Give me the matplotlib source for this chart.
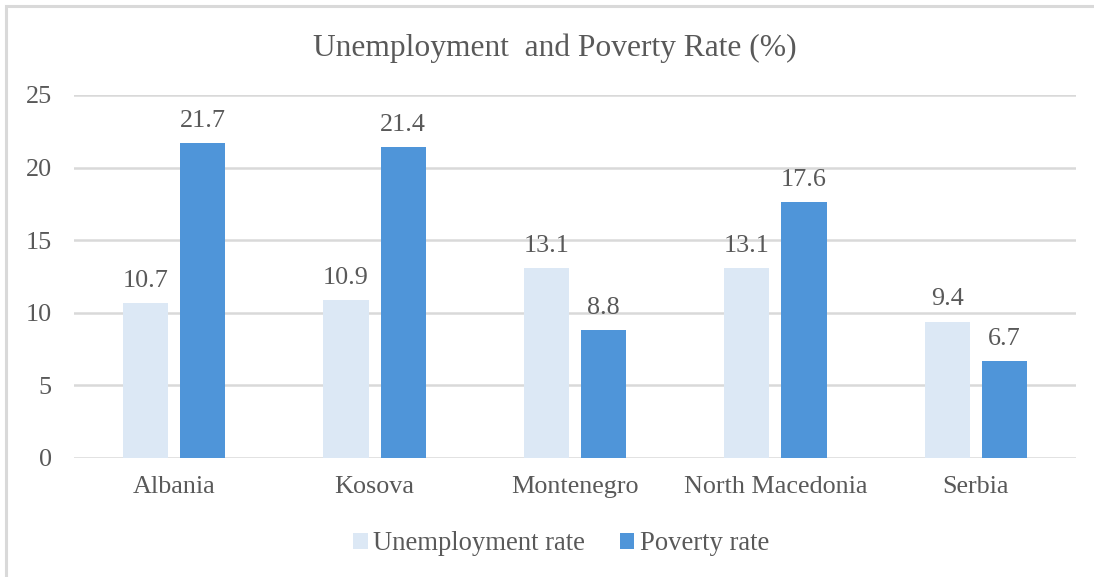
import matplotlib
matplotlib.use("Agg")
import matplotlib.pyplot as plt
from matplotlib.patches import Rectangle
import numpy as np

countries = ["Albania", "Kosova", "Montenegro", "North Macedonia", "Serbia"]
unemployment = [10.7, 10.9, 13.1, 13.1, 9.4]
poverty = [21.7, 21.4, 8.8, 17.6, 6.7]
yticks = [0, 5, 10, 15, 20, 25]

plt.rcParams["font.family"] = ["Liberation Serif", "DejaVu Serif"]
text_color = "#595959"
grid_color = "#D9D9D9"
light = "#DCE8F5"
dark = "#4F95D9"
fs = 18.8

fig = plt.figure(figsize=(10.94, 5.77), dpi=100)
fig.patches.append(Rectangle((6 / 1094, -0.1), 1.2, 1 - 6 / 577 + 0.1,
                             transform=fig.transFigure, fill=False,
                             edgecolor="#D9D9D9", linewidth=2.2))

ax = fig.add_axes([74 / 1094, 119 / 577, (1076 - 74) / 1094, (458 - 95) / 577])

x = np.arange(len(countries))
w = 0.225
gap = 0.06
b1 = ax.bar(x - (w + gap) / 2, unemployment, w, color=light, zorder=3)
b2 = ax.bar(x + (w + gap) / 2, poverty, w, color=dark, zorder=3)

for bars, vals in ((b1, unemployment), (b2, poverty)):
    for r, v in zip(bars, vals):
        ax.annotate(f"{v:.1f}", (r.get_x() + r.get_width() / 2, v),
                    xytext=(0, 8), textcoords="offset points",
                    ha="center", va="bottom", fontsize=fs, color=text_color)

ax.set_xlim(-0.5, len(countries) - 0.5)
ax.set_ylim(0, 25)
ax.set_yticks(yticks)
ax.set_xticks(x)
ax.set_xticklabels(countries)
ax.tick_params(axis="both", length=0, labelsize=fs, labelcolor=text_color)
ax.tick_params(axis="y", pad=16)
ax.tick_params(axis="x", pad=13)
ax.yaxis.grid(True, color=grid_color, linewidth=1.8, zorder=0)
for s in ax.spines.values():
    s.set_visible(False)

fig.text(555 / 1094, 1 - 48 / 577, "Unemployment  and Poverty Rate (%)",
         ha="center", va="center", fontsize=22.7, color=text_color)

leg = fig.legend([b1, b2], ["Unemployment rate", "Poverty rate"],
                 loc="center", bbox_to_anchor=(561 / 1094, 1 - 544 / 577),
                 ncol=2, frameon=False, fontsize=19.2, handlelength=0.55,
                 handleheight=0.55, handletextpad=0.2, columnspacing=1.3)
for t in leg.get_texts():
    t.set_color(text_color)

fig.savefig("out.png", dpi=100)
